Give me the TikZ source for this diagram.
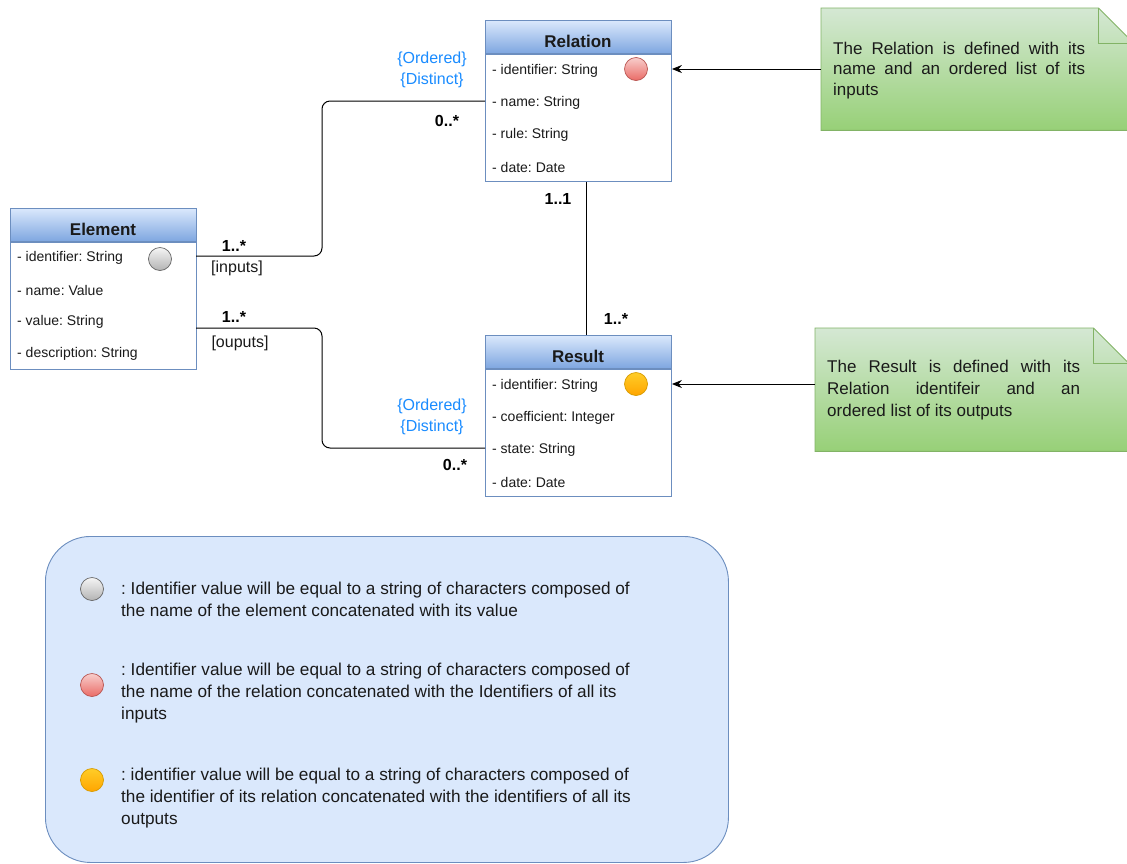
\documentclass[tikz,border=0pt]{standalone}
\usepackage{fontspec}
\setmainfont{Liberation Sans}
\usetikzlibrary{arrows.meta,calc}
\frenchspacing
\definecolor{hdrtop}{HTML}{DAE8FC}
\definecolor{hdrbot}{HTML}{7EA6E0}
\definecolor{boxline}{HTML}{6C8EBF}
\definecolor{notetop}{HTML}{D5E8D4}
\definecolor{notebot}{HTML}{97D077}
\definecolor{noteline}{HTML}{82B366}
\definecolor{legfill}{HTML}{DAE8FC}
\definecolor{constr}{HTML}{1A8CFF}
\definecolor{txt}{HTML}{1A1A1A}
\definecolor{graytop}{HTML}{F5F5F5}
\definecolor{graybot}{HTML}{B3B3B3}
\definecolor{grayline}{HTML}{666666}
\definecolor{redtop}{HTML}{F8CECC}
\definecolor{redbot}{HTML}{EA6B66}
\definecolor{redline}{HTML}{B85450}
\definecolor{orgtop}{HTML}{FFCD28}
\definecolor{orgbot}{HTML}{FFA500}
\definecolor{orgline}{HTML}{D79B00}
\begin{document}
\frenchspacing
\begin{tikzpicture}[x=1pt,y=-1pt,
  hdr/.style={draw=boxline, line width=0.9pt, top color=hdrtop, bottom color=hdrbot,
    minimum width=186pt, minimum height=33pt, inner sep=0pt, anchor=north west},
  title/.style={inner sep=0pt, font=\fontsize{17}{20}\selectfont\bfseries, text=txt},
  body/.style={draw=boxline, line width=0.9pt, fill=white, minimum width=186pt,
    inner sep=0pt, anchor=north west},
  attr/.style={anchor=west, inner sep=0pt, font=\fontsize{14}{16}\selectfont, text=txt},
  dotgray/.style={circle, draw=grayline, top color=graytop, bottom color=graybot, minimum size=23pt, inner sep=0pt, line width=0.7pt},
  dotred/.style={circle, draw=redline, top color=redtop, bottom color=redbot, minimum size=23pt, inner sep=0pt, line width=0.7pt},
  dotorg/.style={circle, draw=orgline, top color=orgtop, bottom color=orgbot, minimum size=23pt, inner sep=0pt, line width=0.7pt},
  conn/.style={draw=black, line width=1pt},
  mult/.style={inner sep=0pt, font=\fontsize{16}{18}\selectfont\bfseries, text=black},
  role/.style={inner sep=0pt, font=\fontsize{16}{18}\selectfont, text=txt},
  cstr/.style={inner sep=0pt, align=center, font=\fontsize{16}{21.5}\selectfont, text=constr},
  notebox/.style={inner sep=0pt, anchor=north west},
  noteshape/.style={draw=noteline, line width=0.9pt, top color=notetop, bottom color=notebot},
  notetext/.style={anchor=west, inner sep=0pt, align=left, font=\fontsize{17}{20.5}\selectfont, text=txt},
  legtext/.style={anchor=west, inner sep=0pt, align=left, font=\fontsize{17.2}{22}\selectfont, text=txt}
]
\clip (0,0) rectangle (1127,863);
\fill[white] (0,0) rectangle (1127,863);

% ---------- Relation ----------
\node[hdr] (relh) at (485,20) {};
\node[title] (relt) at (578,41) {Relation};
\node[body, minimum height=127pt] (rel) at (relh.south west) {};
\node[attr] (relid) at (492,71) {- identifier: String};
\node[attr] (relname) at (492,103) {- name: String};
\node[attr] (relrule) at (492,135) {- rule: String};
\node[attr] (reldate) at (492,167) {- date: Date};
\node[dotred] (reldot) at (636,69) {};

% ---------- Element ----------
\node[hdr] (elemh) at (10,208) {};
\node[title] (elemt) at (103,229) {Element};
\node[body, minimum height=127pt] (elem) at (elemh.south west) {};
\node[attr] (elemid) at (17,258) {- identifier: String};
\node[attr] (elemname) at (17,290) {- name: Value};
\node[attr] (elemval) at (17,322) {- value: String};
\node[attr] (elemdesc) at (17,354) {- description: String};
\node[dotgray] (elemdot) at (160,259) {};
\coordinate (elemin) at (196,256);
\coordinate (elemout) at (196,328);

% ---------- Result ----------
\node[hdr] (resh) at (485,335) {};
\node[title] (rest) at (578,356) {Result};
\node[body, minimum height=127pt] (res) at (resh.south west) {};
\node[attr] (resid) at (492,386) {- identifier: String};
\node[attr] (rescoef) at (492,418) {- coefficient: Integer};
\node[attr] (resstate) at (492,450) {- state: String};
\node[attr] (resdate) at (492,482) {- date: Date};
\node[dotorg] (resdot) at (636,384) {};

% ---------- connectors ----------
\coordinate (bend) at (322,0);
\coordinate (relin) at (485,101);
\coordinate (resin) at (485,448);
\draw[conn, rounded corners=8pt] (elemin) -- (bend |- elemin) -- (bend |- relin) -- (relin);
\draw[conn, rounded corners=8pt] (elemout) -- (bend |- elemout) -- (bend |- resin) -- (resin);
\coordinate (vert) at (586,0);
\draw[conn] (vert |- rel.south) -- (vert |- resh.north);

\node[mult] (m1) at (234,246) {1..*};
\node[role] (r1) at (237,268) {[inputs]};
\node[mult] (m2) at (234,317) {1..*};
\node[role] (r2) at (240,343) {[ouputs]};
\node[mult] (m3) at (447,121) {0..*};
\node[mult] (m4) at (455,465) {0..*};
\node[mult] (m5) at (558,199) {1..1};
\node[mult] (m6) at (616,319) {1..*};
\node[cstr] (c1) at (432,70) {\{Ordered\}\\\{Distinct\}};
\node[cstr] (c2) at (432,417) {\{Ordered\}\\\{Distinct\}};

% ---------- notes ----------
\node[notebox, minimum width=312pt, minimum height=122pt] (note1) at (821,8) {};
\path[noteshape] (note1.north west) -- ($(note1.north east)+(-35,0)$) -- ($(note1.north east)+(0,35)$) -- (note1.south east) -- (note1.south west) -- cycle;
\draw[draw=noteline, line width=0.9pt] ($(note1.north east)+(-35,0)$) -- ($(note1.north east)+(-35,35)$) -- ($(note1.north east)+(0,35)$);
\node[notetext] (n1t) at (833,70.5) {\makebox[252pt][s]{The Relation is defined with its}\\\makebox[252pt][s]{name and an ordered list of its}\\inputs};

\node[notebox, minimum width=313pt, minimum height=123pt] (note2) at (815,328) {};
\path[noteshape] (note2.north west) -- ($(note2.north east)+(-35,0)$) -- ($(note2.north east)+(0,35)$) -- (note2.south east) -- (note2.south west) -- cycle;
\draw[draw=noteline, line width=0.9pt] ($(note2.north east)+(-35,0)$) -- ($(note2.north east)+(-35,35)$) -- ($(note2.north east)+(0,35)$);
\node[notetext, font=\fontsize{17}{22}\selectfont] (n2t) at (827,390) {\makebox[253pt][s]{The Result is defined with its}\\\makebox[253pt][s]{Relation identifeir and an}\\ordered list of its outputs};

\draw[conn, -{Stealth[length=10pt,width=8pt]}] (note1.west |- reldot) -- (rel.east |- reldot);
\draw[conn, -{Stealth[length=10pt,width=8pt]}] (note2.west |- resdot) -- (res.east |- resdot);

% ---------- legend ----------
\node[draw=boxline, line width=0.9pt, fill=legfill, rounded corners=45pt, minimum width=683pt, minimum height=326pt, anchor=north west, inner sep=0pt] (leg) at (45,536) {};
\node[dotgray] (lg1) at (92,589) {};
\node[legtext] (lt1) at (121,599.5) {: Identifier value will be equal to a string of characters composed of\\the name of the element concatenated with its value};
\node[dotred] (lg2) at (92,685) {};
\node[legtext] (lt2) at (121,693) {: Identifier value will be equal to a string of characters composed of\\the name of the relation concatenated with the Identifiers of all its\\inputs};
\node[dotorg] (lg3) at (92,780) {};
\node[legtext] (lt3) at (121,798) {: identifier value will be equal to a string of characters composed of\\the identifier of its relation concatenated with the identifiers of all its\\outputs};
\end{tikzpicture}
\end{document}
